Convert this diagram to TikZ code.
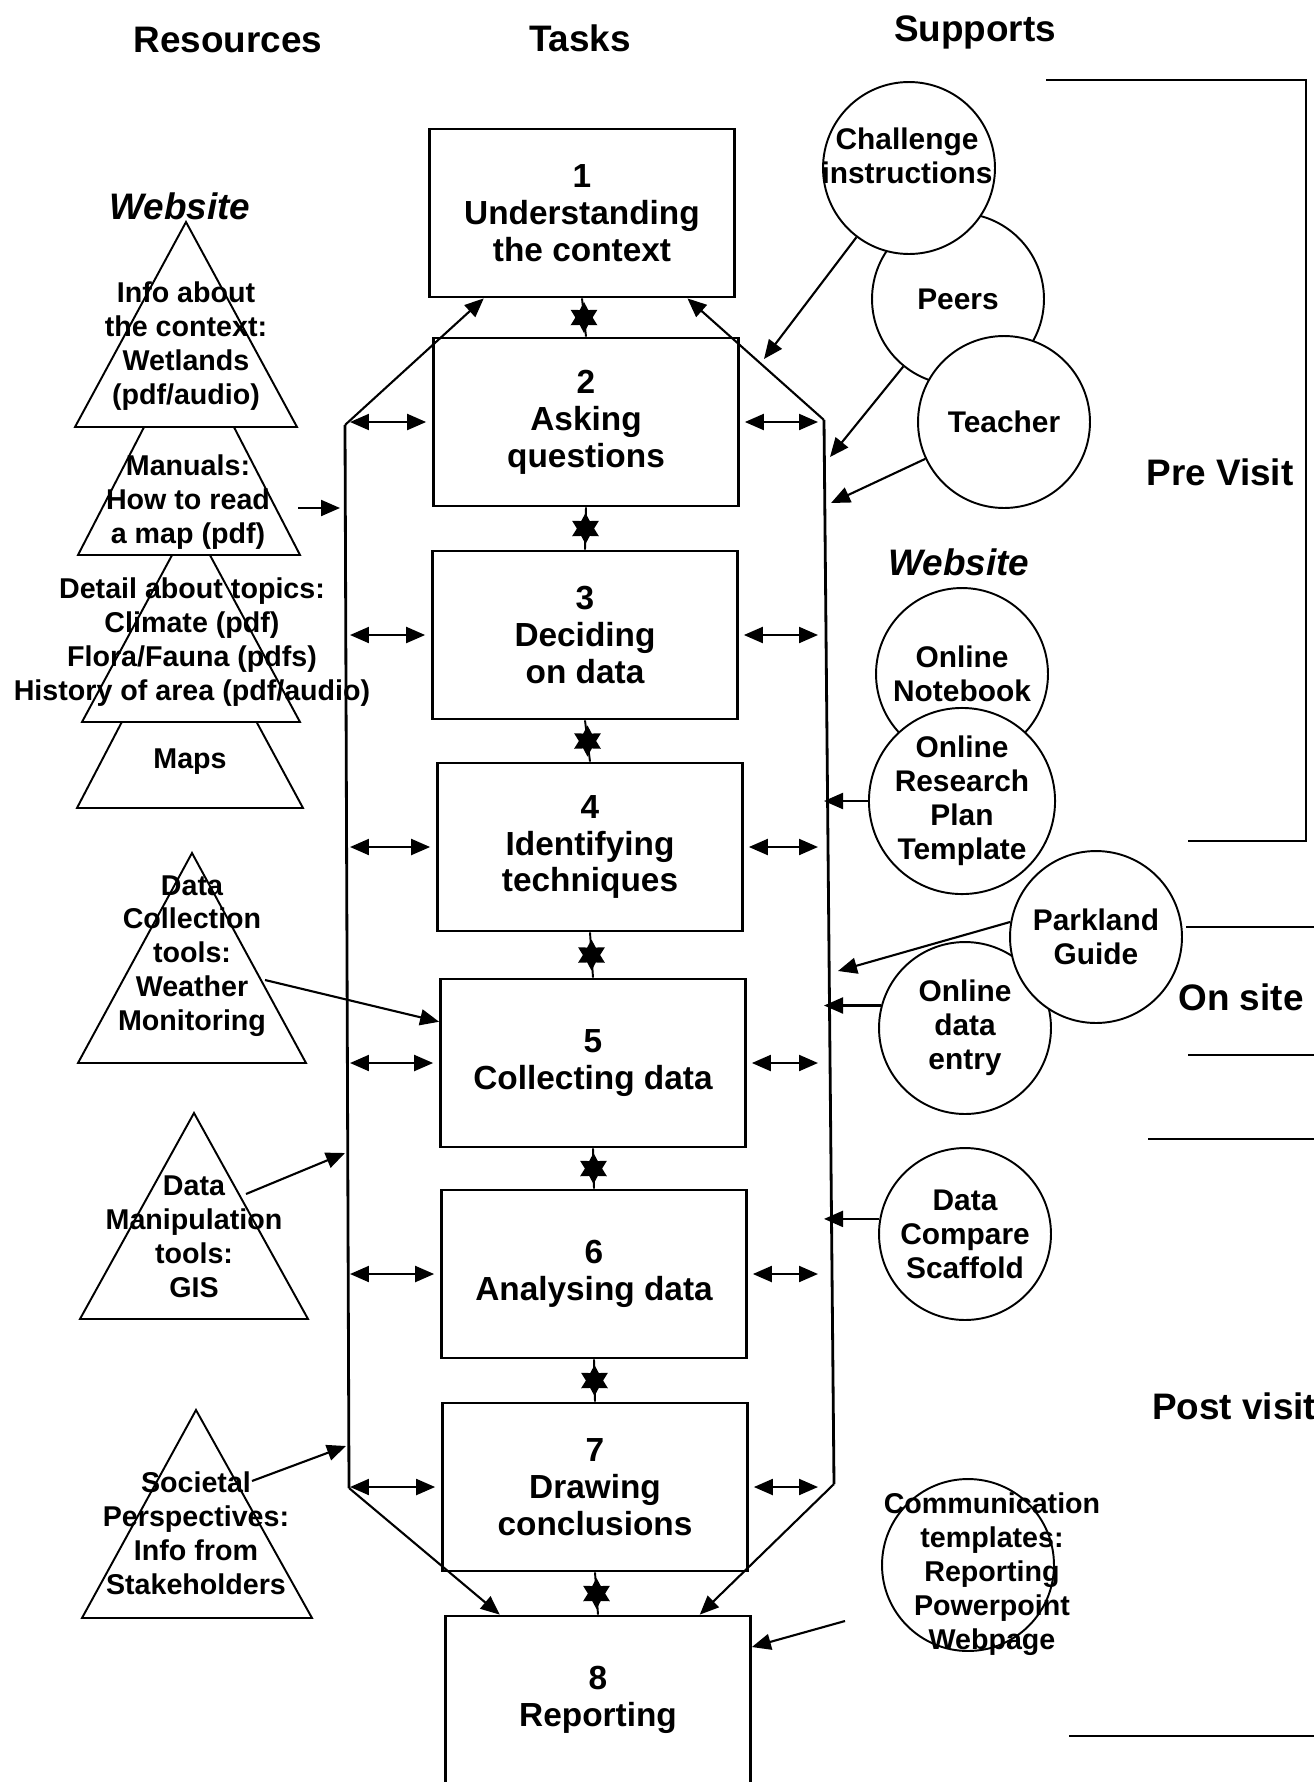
\documentclass[tikz,border=0pt]{standalone}
\usepackage{fontspec}
\setmainfont{Liberation Sans}
\usetikzlibrary{arrows.meta,shapes.geometric}

\tikzset{
  task/.style={draw, line width=1.6pt, minimum width=6.1cm, minimum height=3.36cm,
    inner sep=0pt, align=center, font=\bfseries\fontsize{19}{21}\selectfont},
  support/.style={circle, draw, fill=white, line width=1.1pt, minimum size=3.44cm,
    inner sep=0pt, align=center, font=\bfseries\fontsize{17}{19.3}\selectfont},
  suptext/.style={align=center, font=\bfseries\fontsize{17}{19.3}\selectfont},
  restext/.style={align=center, font=\bfseries\fontsize{16.3}{19.3}\selectfont},
  resshape/.style={draw, fill=white, line width=1.1pt},
  head/.style={font=\bfseries\fontsize{21}{24}\selectfont},
  phase/.style={font=\bfseries\fontsize{21}{24}\selectfont},
  webtag/.style={font=\bfseries\itshape\fontsize{21}{24}\selectfont},
  link/.style={line width=1.2pt, -{Triangle[length=0.38cm,width=0.32cm]}},
  twoway/.style={line width=1.2pt, {Triangle[length=0.38cm,width=0.32cm]}-{Triangle[length=0.38cm,width=0.32cm]},
    shorten <=0.1cm, shorten >=0.12cm},
  hexstar/.style={star, star points=6, star point ratio=1.8, fill, inner sep=0pt, minimum size=0.62cm},
  bus/.style={line width=1.6pt}
}

\begin{document}
\begin{tikzpicture}[x=0.02cm, y=-0.02cm]
      \useasboundingbox (0,0) rectangle (1314,1782);
      \clip (0,0) rectangle (1314,1782);

      \node[head] (hres) at (228,40) {Resources};
      \node[head] (htask) at (580,38) {Tasks};
      \node[head] (hsup) at (975,32) {Supports};

      % resources
      \draw[resshape] (77,808) -- (188,595) -- (303,808) -- cycle;
      \draw[resshape] (82,722) -- (191,520) -- (300,722) -- cycle;
      \draw[resshape] (78,555) -- (189,340) -- (300,555) -- cycle;
      \draw[resshape] (75,427) -- (186,222) -- (297,427) -- cycle;
      \draw[resshape] (78,1063) -- (192,853) -- (306,1063) -- cycle;
      \draw[resshape] (80,1319) -- (194,1113) -- (308,1319) -- cycle;
      \draw[resshape] (82,1618) -- (196,1410) -- (312,1618) -- cycle;
      \node[webtag] (webres) at (180,206) {Website};
      \node[restext] (r1) at (186,346) {Info about\\the context:\\Wetlands\\(pdf/audio)};
      \node[restext] (r2) at (188,502) {Manuals:\\How to read\\a map (pdf)};
      \node[restext] (r3) at (192,642) {Detail about topics:\\Climate (pdf)\\Flora/Fauna (pdfs)\\History of area (pdf/audio)};
      \node[restext] (r4) at (190,762) {Maps};
      \node[restext] (r5) at (192,956) {Data\\Collection\\tools:\\Weather\\Monitoring};
      \node[restext] (r6) at (194,1237) {Data\\Manipulation\\tools:\\GIS};
      \node[restext] (r7) at (196,1533) {Societal\\Perspectives:\\Info from\\Stakeholders};

      % tasks
      \node[task] (b1) at (582,213) {1\\Understanding\\the context};
      \node[task] (b2) at (586,422) {2\\Asking\\questions};
      \node[task] (b3) at (585,635) {3\\Deciding\\on data};
      \node[task] (b4) at (590,847) {4\\Identifying\\techniques};
      \node[task] (b5) at (593,1063) {5\\Collecting data};
      \node[task] (b6) at (594,1274) {6\\Analysing data};
      \node[task] (b7) at (595,1487) {7\\Drawing\\conclusions};
      \node[task] (b8) at (598,1700) {8\\Reporting};

      \foreach \a/\b in {b1/b2, b2/b3, b3/b4, b4/b5, b5/b6, b6/b7, b7/b8}
        \draw[line width=1.1pt] (\a.south) -- (\b.north) node[hexstar, midway] {};

      \coordinate (lt) at (345,425);
      \coordinate (lb) at (349,1488);
      \coordinate (rt) at (824,420);
      \coordinate (rb) at (834,1484);
      \draw[bus] (lt) -- (lb);
      \draw[bus] (rt) -- (rb);
      \draw[link] (lt) -- (b1.221);
      \draw[link] (rt) -- (b1.321);
      \draw[link] (lb) -- (b8.139);
      \draw[link] (rb) -- (b8.40);
      \foreach \t in {b2, b3, b4, b5, b6, b7} {
        \draw[twoway] (\t.west -| lt) -- (\t.west);
        \draw[twoway] (\t.east) -- (\t.east -| rt);
      }

      \coordinate (mapsout) at (298,508);
      \coordinate (mapsin) at (340,508);
      \coordinate (toolsout) at (265,980);
      \coordinate (gisout) at (246,1194);
      \coordinate (gisin) at (345,1153);
      \coordinate (viewsout) at (252,1481);
      \coordinate (viewsin) at (346,1446);
      \draw[link] (mapsout) -- (mapsin);
      \draw[link] (toolsout) -- (b5.165);
      \draw[link] (gisout) -- (gisin);
      \draw[link] (viewsout) -- (viewsin);

      % supports
      \node[support] (c2) at (958,299) {Peers};
      \node[support] (c3) at (1004,422) {Teacher};
      \node[support] (c1) at (909,168) {};
      \node[suptext] (c1text) at (907,156) {Challenge\\instructions};
      \node[webtag] (websup) at (959,562) {Website};
      \node[support] (c4) at (962,674) {Online\\Notebook};
      \node[support] (c5) at (962,801) {Online\\Research\\Plan\\Template};
      \node[support] (c7) at (965,1028) {Online\\data\\entry};
      \node[support] (c6) at (1096,937) {Parkland\\Guide};
      \node[support] (c8) at (965,1234) {Data\\Compare\\Scaffold};
      \node[support] (c9) at (968,1565) {};
      \node[restext] (c9text) at (992,1574) {Communication\\templates:\\Reporting\\Powerpoint\\Webpage};

      \coordinate (chin) at (764,359);
      \coordinate (peersin) at (830,457);
      \coordinate (teachin) at (831,503);
      \coordinate (guidein) at (838,971);
      \coordinate (commout) at (845,1621);
      \draw[link] (c1) -- (chin);
      \draw[link] (c2) -- (peersin);
      \draw[link] (c3) -- (teachin);
      \draw[link] (c5.west) -- (c5.west -| rt);
      \draw[link] (c6.170) -- (guidein);
      \draw[link] (c7.165) -- (c7.165 -| rt);
      \draw[link] (c8.170) -- (c8.170 -| rt);
      \draw[link] (commout) -- (b8.19);

      % phases
      \draw[line width=1.3pt] (1046,80) -- (1306,80) -- (1306,841) -- (1188,841);
      \draw[line width=1.3pt] (1186,927) -- (1320,927);
      \draw[line width=1.3pt] (1188,1055) -- (1320,1055);
      \draw[line width=1.3pt] (1148,1139) -- (1320,1139);
      \draw[line width=1.3pt] (1069,1736) -- (1320,1736);
      \node[phase] (pre) at (1220,472) {Pre Visit};
      \node[phase] (onsite) at (1241,997) {On site};
      \node[phase, anchor=west] (post) at (1146,1406) {Post visit};
\end{tikzpicture}
\end{document}
